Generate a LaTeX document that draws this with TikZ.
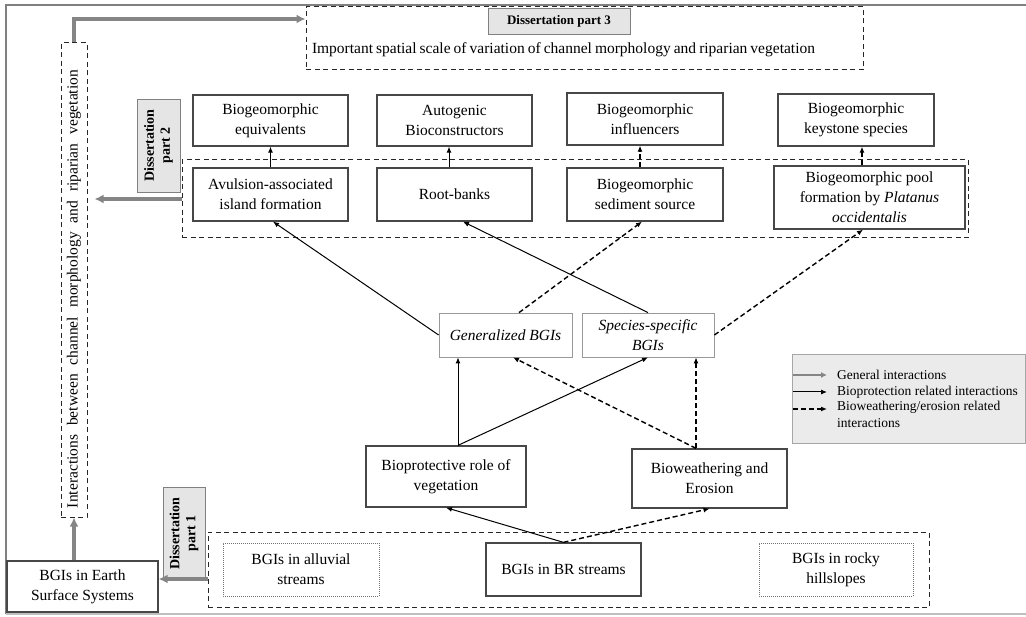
\documentclass[tikz,border=0pt]{standalone}
\usepackage{fontspec}
\setmainfont{Liberation Serif}
\usetikzlibrary{arrows.meta}
\newcommand{\boxfont}{\fontsize{15.5}{20}\selectfont}
\newcommand{\tagfont}{\fontsize{14}{16}\selectfont\bfseries}
\newcommand{\legfont}{\fontsize{13.5}{17}\selectfont}
\tikzset{
  box/.style={draw=black!72, line width=1.3pt, fill=white, align=center, inner sep=2pt, font=\boxfont},
  ibox/.style={draw=black!40, line width=0.8pt, fill=white, align=center, inner sep=2pt, font=\boxfont\itshape},
  dbox/.style={draw=black!85, dash pattern=on 5pt off 3.5pt, line width=1pt},
  obox/.style={draw=black!55, dash pattern=on 1pt off 1pt, line width=1pt, align=center, inner sep=2pt, font=\boxfont},
  tagbox/.style={draw=black!50, fill=black!10, line width=0.8pt, align=center, inner sep=1pt, font=\tagfont},
  garrow/.style={draw=black!48, line width=3.3pt, -{Latex[length=9pt,width=9pt]}},
  parrow/.style={draw=black, line width=1pt, -{Latex[length=6pt,width=5pt]}},
  warrow/.style={draw=black, line width=1.4pt, dash pattern=on 5pt off 3pt, -{Latex[length=6pt,width=5pt]}},
}
\begin{document}
\begin{tikzpicture}[x=1pt, y=-1pt]
\useasboundingbox (0,0) rectangle (1026,617);

% frame
\draw[black!50, line width=2.5pt] (1026,5) -- (6,5) -- (6,614);
\draw[black!25, line width=1.5pt] (6,614) -- (1026,614);

% part 3
\node[dbox, minimum width=557, minimum height=63] (d3top) at (584.5,38.5) {};
\node[tagbox, font=\fontsize{13}{15}\selectfont\bfseries, minimum width=142, minimum height=26] (d3tag) at (559,21) {Dissertation part 3};
\node[font=\boxfont] (d3text) at (563.5,50) {\makebox[503pt][s]{Important spatial scale of variation of channel morphology and riparian vegetation}};

% interactions column
\node[dbox, minimum width=26, minimum height=474] (vbox) at (74,280) {};
\node[rotate=90, font=\boxfont] (vtext) at (74,289) {\makebox[438pt][s]{Interactions between channel morphology and riparian vegetation}};

% part 2 group
\node[dbox, minimum width=786, minimum height=78] (mid) at (575,199) {};
\node[tagbox, rotate=90, minimum width=93, minimum height=43] (d2tag) at (158.5,145.5) {Dissertation\\part 2};

\node[box, minimum width=155, minimum height=51] (equiv) at (270.5,120.5) {Biogeomorphic\\equivalents};
\node[box, minimum width=155, minimum height=51] (autog) at (454.5,120.5) {Autogenic\\Bioconstructors};
\node[box, minimum width=156, minimum height=52] (influ) at (645,119) {Biogeomorphic\\influencers};
\node[box, minimum width=156, minimum height=52] (keyst) at (856,120) {Biogeomorphic\\keystone species};

\node[box, minimum width=155, minimum height=53] (avul) at (270.5,194.5) {Avulsion-associated\\island formation};
\node[box, minimum width=155, minimum height=53] (root) at (454.5,194.5) {Root-banks};
\node[box, minimum width=156, minimum height=53] (sedi) at (645,194.5) {Biogeomorphic\\sediment source};
\node[box, minimum width=191, minimum height=63] (plat) at (869.5,197.5) {Biogeomorphic pool\\formation by \textit{Platanus}\\\textit{occidentalis}};

% BGI types
\node[ibox, minimum width=133, minimum height=44] (gen) at (505.5,335) {Generalized BGIs};
\node[ibox, minimum width=132, minimum height=44] (spec) at (648,335) {Species-specific\\BGIs};

% processes
\node[box, minimum width=160, minimum height=61] (bprot) at (446,476.5) {Bioprotective role of\\vegetation};
\node[box, minimum width=155, minimum height=59] (bweat) at (709.5,478.5) {Bioweathering and\\Erosion};

% part 1 group
\node[dbox, minimum width=721, minimum height=75] (bot) at (568.5,569.5) {};
\node[tagbox, rotate=90, minimum width=93, minimum height=42] (d1tag) at (184,533.5) {Dissertation\\part 1};
\node[obox, minimum width=156, minimum height=53] (allu) at (301,569.5) {BGIs in alluvial\\streams};
\node[box, minimum width=155, minimum height=53] (br) at (563.5,569.5) {BGIs in BR streams};
\node[obox, minimum width=154, minimum height=53] (rock) at (836,569.5) {BGIs in rocky\\hillslopes};

\node[box, minimum width=151, minimum height=51] (ess) at (82.5,586.5) {BGIs in Earth\\Surface Systems};

% general interactions
\draw[garrow] (ess.north -| vbox.south) -- (vbox.south);
\draw[garrow] (vbox.north) |- ([yshift=19.5pt]d3top.west);
\draw[garrow, shorten >=7pt] (mid.west) -- (mid.west -| vbox.east);
\draw[garrow] ([yshift=-9.5pt]bot.west) -- ([yshift=-9.5pt]bot.west -| ess.east);

% from BR streams
\draw[parrow] (br.north) -- (bprot.south);
\draw[warrow] (br.north) -- (bweat.south);

% from processes to BGI types
\coordinate (bp) at ([xshift=12pt]bprot.north);
\coordinate (bw) at ([xshift=-13.5pt]bweat.north);
\draw[parrow] (bp) -- (bp |- gen.south);
\draw[parrow] (bp) -- (spec.south);
\draw[warrow] (bw) -- (bw |- spec.south);
\draw[warrow] (bw) -- ([xshift=7.5pt]gen.south);

% from BGI types to examples
\draw[parrow] (gen.west) -- ([xshift=2.5pt]avul.south);
\draw[warrow] ([xshift=13.5pt]gen.north) -- ([xshift=-3pt]sedi.south);
\draw[parrow] (spec.north) -- ([xshift=8.5pt]root.south);
\draw[warrow] (spec.east) -- ([xshift=-6.5pt]plat.south);

% examples to roles
\draw[parrow] (avul.north) -- (equiv.south);
\draw[parrow] ([xshift=-5.5pt]root.north) -- ([xshift=-5.5pt]autog.south);
\draw[warrow] ([xshift=-5pt]sedi.north) -- ([xshift=-5pt]influ.south);
\coordinate (pk) at ([xshift=-7.5pt]plat.north);
\draw[warrow] (pk) -- (pk |- keyst.south);

% legend
\node[draw=black!35, fill=black!8, line width=0.8pt, minimum width=233, minimum height=89] (legend) at (908.5,398.5) {};
\coordinate (la1) at (793,375); \coordinate (lb1) at (827,375);
\coordinate (la2) at (793,392); \coordinate (lb2) at (827,392);
\coordinate (la3) at (793,409); \coordinate (lb3) at (827,409);
\draw[garrow, line width=2.2pt, -{Latex[length=6pt,width=6pt]}] (la1) -- (lb1);
\draw[parrow] (la2) -- (lb2);
\draw[warrow] (la3) -- (lb3);
\node[anchor=west, font=\legfont, inner sep=0pt] (lt1) at (837,375) {General interactions};
\node[anchor=west, font=\legfont, inner sep=0pt] (lt2) at (837,392) {Bioprotection related interactions};
\node[anchor=north west, font=\legfont, align=left, inner sep=0pt] (lt3) at (837,401) {Bioweathering/erosion related\\interactions};
\end{tikzpicture}
\end{document}
